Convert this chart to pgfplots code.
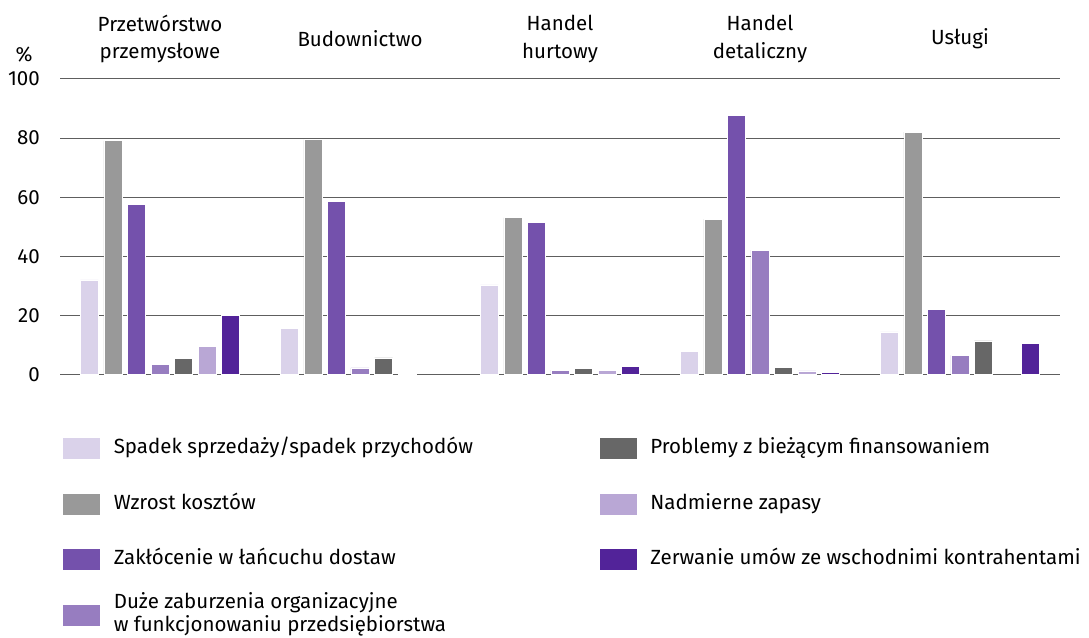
\documentclass[border=0pt]{standalone}
\usepackage{fontspec}
\setmainfont{Fira Sans}
\usepackage{pgfplots}
\pgfplotsset{compat=1.18}
\definecolor{cA}{HTML}{DAD2EA}
\definecolor{cB}{HTML}{999999}
\definecolor{cC}{HTML}{7451AC}
\definecolor{cD}{HTML}{977DC0}
\definecolor{cE}{HTML}{676767}
\definecolor{cF}{HTML}{B9A7D5}
\definecolor{cG}{HTML}{522399}
\definecolor{gridc}{HTML}{5E5E5E}
\definecolor{basec}{HTML}{A6A6A6}
\newcommand{\lt}[1]{\raisebox{-6pt}[0pt][0pt]{#1}}
\newcommand{\lc}[1]{\makebox[485pt][l]{\raisebox{-6pt}[0pt][0pt]{#1}}}
\begin{document}
\begin{tikzpicture}[x=1pt,y=1pt]
\useasboundingbox (0,0) rectangle (1089,637);
\begin{axis}[
  at={(60pt,262.5pt)}, anchor=south west,
  scale only axis, width=1000pt, height=295.5pt,
  xmin=0, xmax=5, ymin=0, ymax=100,
  ybar, bar width=18pt,
  axis line style={draw=none},
  major tick length=0pt,
  xtick={0.5,1.5,2.5,3.5,4.5},
  xticklabels={{Przetwórstwo\\przemysłowe},Budownictwo,{Handel\\hurtowy},{Handel\\detaliczny},Usługi},
  xticklabel pos=upper,
  xticklabel style={align=center, anchor=center, yshift=40pt, font=\fontsize{20.5}{27.5}\selectfont},
  ytick={20,40,60,80,100},
  extra y ticks={0},
  extra y tick style={grid style={color=basec, line width=1.2pt}},
  ymajorgrids,
  major grid style={color=gridc, line width=1pt},
  /pgf/number format/assume math mode=true,
  yticklabel style={font=\fontsize{20.5}{24}\selectfont, inner sep=0pt, anchor=east, xshift=-20pt},
  legend columns=2,
  legend cell align=left,
  legend style={at={(0.002,-0.2115)}, anchor=north west, draw=none, fill=none,
    inner sep=0pt, row sep=33pt,
    nodes={inner sep=0pt, font=\fontsize{20.5}{22.5}\selectfont},
    /tikz/every odd column/.style={column sep=13pt}},
  legend image code/.code={\fill[#1] (0pt,-11pt) rectangle (38pt,11pt);},
  every axis plot/.append style={draw=white, line width=0.6pt},
]
\addplot[fill=cA, bar shift=-70.5pt] coordinates {(0.5,32) (1.5,15.6) (2.5,30.3) (3.5,7.9) (4.5,14.4)};
\addlegendentry{\lc{Spadek sprzedaży/spadek przychodów}}
\addplot[fill=cE, bar shift=23.5pt] coordinates {(0.5,5.5) (1.5,5.6) (2.5,2.1) (3.5,2.4) (4.5,11.4)};
\addlegendentry{\lt{Problemy z bieżącym finansowaniem}}
\addplot[fill=cB, bar shift=-47pt] coordinates {(0.5,79.1) (1.5,79.5) (2.5,53.1) (3.5,52.6) (4.5,82)};
\addlegendentry{\lc{Wzrost kosztów}}
\addplot[fill=cF, bar shift=47pt] coordinates {(0.5,9.4) (1.5,0.5) (2.5,1.5) (3.5,1.2)};
\addlegendentry{\lt{Nadmierne zapasy}}
\addplot[fill=cC, bar shift=-23.5pt] coordinates {(0.5,57.5) (1.5,58.5) (2.5,51.6) (3.5,87.6) (4.5,22.1)};
\addlegendentry{\lc{Zakłócenie w łańcuchu dostaw}}
\addplot[fill=cG, bar shift=70.5pt] coordinates {(0.5,19.9) (2.5,2.8) (3.5,0.7) (4.5,10.5)};
\addlegendentry{\lt{Zerwanie umów ze wschodnimi kontrahentami}}
\addplot[fill=cD, bar shift=0pt] coordinates {(0.5,3.5) (1.5,2.2) (2.5,1.5) (3.5,42.1) (4.5,6.5)};
\addlegendentry{\lc{\begin{tabular}[c]{@{}l@{}}Duże zaburzenia organizacyjne\\w funkcjonowaniu przedsiębiorstwa\end{tabular}}}
\end{axis}
\node[font=\fontsize{20.5}{24}\selectfont] at (24,582) {\%};
\end{tikzpicture}
\end{document}
